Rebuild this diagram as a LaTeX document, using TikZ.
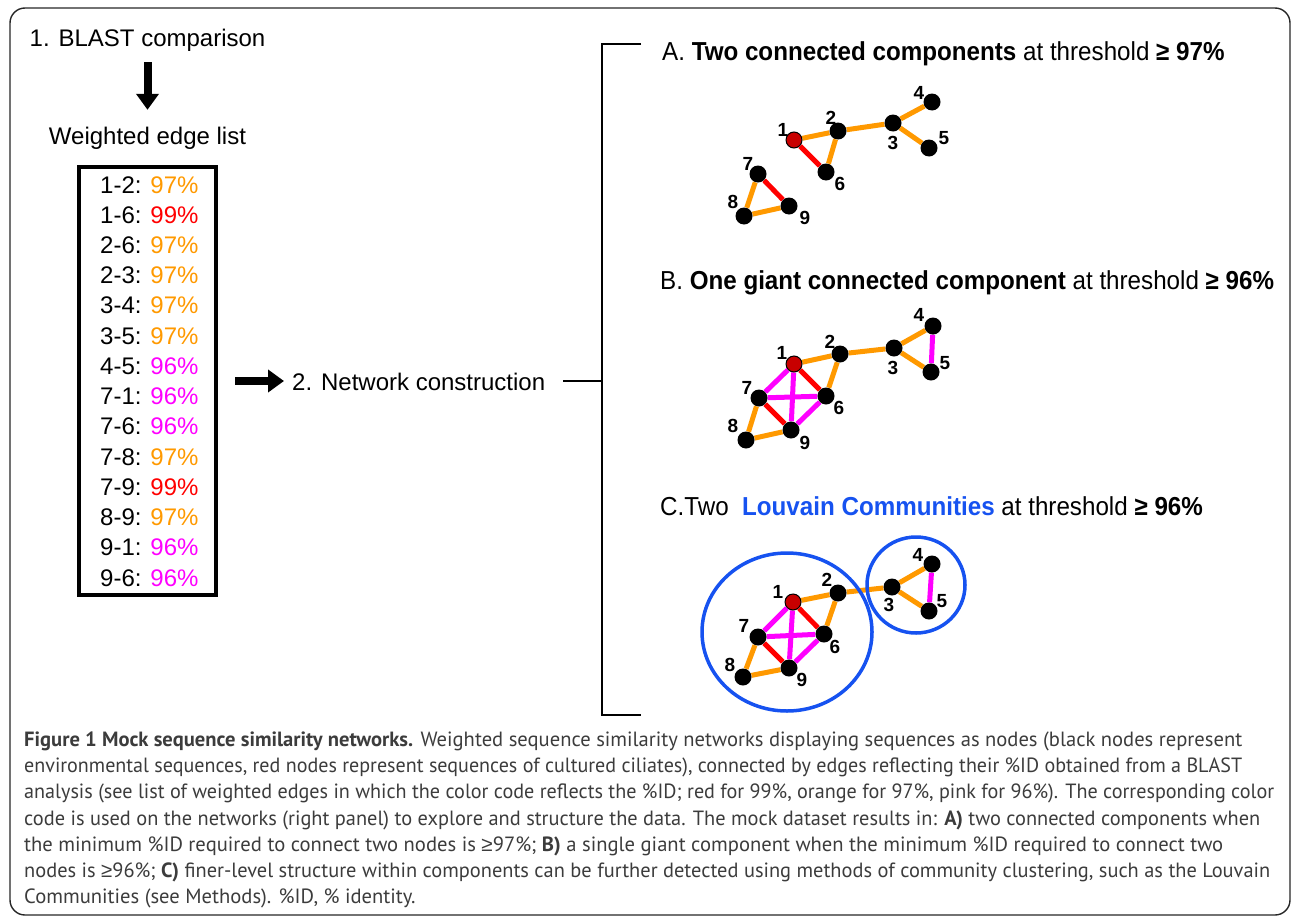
\documentclass[tikz,border=0pt]{standalone}
\usepackage{fontspec}
\usepackage{graphicx}
\setmainfont{Liberation Sans}
\newfontfamily\capfont{PT Sans}
\newfontfamily\gefont{Liberation Sans}
\usetikzlibrary{arrows.meta,backgrounds}
\definecolor{eorange}{RGB}{255,153,0}
\definecolor{ered}{RGB}{255,0,0}
\definecolor{epink}{RGB}{255,0,255}
\definecolor{nred}{RGB}{200,0,0}
\definecolor{lblue}{RGB}{22,82,240}
\definecolor{capgray}{RGB}{60,60,60}
\newcommand{\gesym}{{\gefont ≥}}
\newcommand{\po}[1]{{\color{eorange}#1\%}}
\newcommand{\pr}[1]{{\color{ered}#1\%}}
\newcommand{\pp}[1]{{\color{epink}#1\%}}
\newcommand{\fitw}[2]{\resizebox{#1}{\height}{#2}}
\tikzset{
  frame/.style={draw=black!85, line width=1.4pt, rounded corners=15pt},
  txt/.style={inner sep=0pt, text height=17.5pt, text depth=5pt, font=\fontsize{24}{28}\selectfont},
  ttl/.style={inner sep=0pt, anchor=base west, font=\fontsize{26}{30}\selectfont},
  bigarrow/.style={line width=8pt, -{Triangle[length=16pt,width=22pt]}},
  bline/.style={line width=2pt, black},
  listbox/.style={draw, line width=4pt, minimum width=137pt, minimum height=428pt, inner sep=0pt},
  row/.style={inner sep=0pt, anchor=base west, font=\fontsize{24}{28}\selectfont},
  gn/.style={circle, fill=black, inner sep=0pt, minimum size=17pt},
  rn/.style={circle, fill=nred, draw=black, line width=1pt, inner sep=0pt, minimum size=16pt},
  lb/.style={inner sep=0pt, font=\bfseries\fontsize{19}{20}\selectfont},
  eo/.style={draw=eorange, line width=5pt},
  er/.style={draw=ered, line width=5pt},
  ep/.style={draw=epink, line width=5pt},
  comm/.style={draw=lblue, line width=3.5pt},
  captxt/.style={inner sep=0pt, anchor=base west, text=capgray, font=\capfont\fontsize{20.6}{26}\selectfont},
}
\begin{document}
\begin{tikzpicture}[x=1pt,y=-1pt]
\useasboundingbox (0,0) rectangle (1292,918);
\draw[frame] (10,8) rectangle (1290,915);

% left column
\node[txt, anchor=base] (blast) at (147.5,46) {1. BLAST comparison};
\node[txt, anchor=base] (wel) at (147.5,144) {Weighted edge list};
\draw[bigarrow, shorten <=11pt, shorten >=16.5pt] (blast.south) -- (wel.north);

\node[listbox] (list) at (147.5,381) {};
\node[row] (r1) at (100,193.0) {1-2: \po{97}};
\node[row] (r2) at (100,223.2) {1-6: \pr{99}};
\node[row] (r3) at (100,253.5) {2-6: \po{97}};
\node[row] (r4) at (100,283.7) {2-3: \po{97}};
\node[row] (r5) at (100,313.9) {3-4: \po{97}};
\node[row] (r6) at (100,344.2) {3-5: \po{97}};
\node[row] (r7) at (100,374.4) {4-5: \pp{96}};
\node[row] (r8) at (100,404.6) {7-1: \pp{96}};
\node[row] (r9) at (100,434.8) {7-6: \pp{96}};
\node[row] (r10) at (100,465.1) {7-8: \po{97}};
\node[row] (r11) at (100,495.3) {7-9: \pr{99}};
\node[row] (r12) at (100,525.5) {8-9: \po{97}};
\node[row] (r13) at (100,555.8) {9-1: \pp{96}};
\node[row] (r14) at (100,586.0) {9-6: \pp{96}};

\node[txt, anchor=base west] (net) at (292,390) {2. Network construction};
\draw[bigarrow, shorten <=17pt, shorten >=8pt] (list.east) -- (net.west |- list.east);

% bracket
\coordinate (brtop) at (602,44);
\coordinate (brbot) at (602,715);
\coordinate (brmid) at (602,381);
\coordinate (tickA) at (641,44);
\coordinate (tickC) at (641,715);
\draw[bline] (tickA) -- (brtop) -- (brbot) -- (tickC);
\draw[bline, shorten <=18pt] (net.east |- brmid) -- (brmid);

% titles
\node[ttl] (tA) at (662,60) {\scalebox{0.93}[1]{A. \textbf{Two connected components} at threshold \textbf{\gesym\ 97\%}}};
\node[ttl] (tB) at (660,289) {\scalebox{0.93}[1]{B. \textbf{One giant connected component} at threshold \textbf{\gesym\ 96\%}}};
\node[ttl] (tC) at (660,515) {\scalebox{0.93}[1]{C.Two\ \ \textcolor{lblue}{\textbf{Louvain Communities}} at threshold \textbf{\gesym\ 96\%}}};

% ---------- panel A ----------
\node[rn] (a1) at (794,140) {};
\node[gn] (a2) at (838,131) {};
\node[gn] (a3) at (893,123) {};
\node[gn] (a4) at (932,102) {};
\node[gn] (a5) at (929,148) {};
\node[gn] (a6) at (826,172) {};
\node[gn] (a7) at (758,174) {};
\node[gn] (a8) at (744,216) {};
\node[gn] (a9) at (789,206) {};
\node[lb] (la1) at (783,130) {1};
\node[lb] (la2) at (831,118) {2};
\node[lb] (la3) at (893,143) {3};
\node[lb] (la4) at (919,93) {4};
\node[lb] (la5) at (944,138) {5};
\node[lb] (la6) at (840,184) {6};
\node[lb] (la7) at (748,164) {7};
\node[lb] (la8) at (733,202) {8};
\node[lb] (la9) at (805,218) {9};
\begin{scope}[on background layer]
\draw[eo] (a1) -- (a2);
\draw[er] (a1) -- (a6);
\draw[eo] (a2) -- (a6);
\draw[eo] (a2) -- (a3);
\draw[eo] (a3) -- (a4);
\draw[eo] (a3) -- (a5);
\draw[er] (a7) -- (a9);
\draw[eo] (a7) -- (a8);
\draw[eo] (a8) -- (a9);
\end{scope}

% ---------- panel B ----------
\node[rn] (b1) at (794,364) {};
\node[gn] (b2) at (840,354) {};
\node[gn] (b3) at (894,348) {};
\node[gn] (b4) at (933,326) {};
\node[gn] (b5) at (931,372) {};
\node[gn] (b6) at (826,396) {};
\node[gn] (b7) at (759,398) {};
\node[gn] (b8) at (746,440) {};
\node[gn] (b9) at (791,430) {};
\node[lb] (lb1) at (782,353) {1};
\node[lb] (lb2) at (830,342) {2};
\node[lb] (lb3) at (893,368) {3};
\node[lb] (lb4) at (919,315) {4};
\node[lb] (lb5) at (945,363) {5};
\node[lb] (lb6) at (839,408) {6};
\node[lb] (lb7) at (747,388) {7};
\node[lb] (lb8) at (733,426) {8};
\node[lb] (lb9) at (805,443) {9};
\begin{scope}[on background layer]
\draw[eo] (b1) -- (b2);
\draw[er] (b1) -- (b6);
\draw[eo] (b2) -- (b6);
\draw[eo] (b2) -- (b3);
\draw[eo] (b3) -- (b4);
\draw[eo] (b3) -- (b5);
\draw[ep] (b4) -- (b5);
\draw[ep] (b7) -- (b1);
\draw[ep] (b7) -- (b6);
\draw[eo] (b7) -- (b8);
\draw[er] (b7) -- (b9);
\draw[eo] (b8) -- (b9);
\draw[ep] (b9) -- (b1);
\draw[ep] (b9) -- (b6);
\end{scope}

% ---------- panel C ----------
\node[rn] (c1) at (793,602) {};
\node[gn] (c2) at (838,593) {};
\node[gn] (c3) at (892,587) {};
\node[gn] (c4) at (932,564) {};
\node[gn] (c5) at (929,611) {};
\node[gn] (c6) at (824,634) {};
\node[gn] (c7) at (758,637) {};
\node[gn] (c8) at (743,677) {};
\node[gn] (c9) at (789,668) {};
\node[lb] (lc1) at (778,592) {1};
\node[lb] (lc2) at (827,580) {2};
\node[lb] (lc3) at (889,605) {3};
\node[lb] (lc4) at (918,555) {4};
\node[lb] (lc5) at (942,601) {5};
\node[lb] (lc6) at (835,647) {6};
\node[lb] (lc7) at (744,626) {7};
\node[lb] (lc8) at (730,665) {8};
\node[lb] (lc9) at (802,680) {9};
\begin{scope}[on background layer]
\draw[eo] (c1) -- (c2);
\draw[er] (c1) -- (c6);
\draw[eo] (c2) -- (c6);
\draw[eo] (c2) -- (c3);
\draw[eo] (c3) -- (c4);
\draw[eo] (c3) -- (c5);
\draw[ep] (c4) -- (c5);
\draw[ep] (c7) -- (c1);
\draw[ep] (c7) -- (c6);
\draw[eo] (c7) -- (c8);
\draw[er] (c7) -- (c9);
\draw[eo] (c8) -- (c9);
\draw[ep] (c9) -- (c1);
\draw[ep] (c9) -- (c6);
\end{scope}
\draw[comm] (787,632) ellipse [x radius=85pt, y radius=79pt];
\draw[comm] (916,585) ellipse [x radius=49pt, y radius=48pt];

% ---------- caption ----------
\node[captxt] (cap1) at (24,746) {\fitw{1218pt}{\textbf{Figure 1 Mock sequence similarity networks.} Weighted sequence similarity networks displaying sequences as nodes (black nodes represent}};
\node[captxt] (cap2) at (24,772) {\fitw{1218pt}{environmental sequences, red nodes represent sequences of cultured ciliates), connected by edges reflecting their \%ID obtained from a BLAST}};
\node[captxt] (cap3) at (24,798) {\fitw{1250pt}{analysis (see list of weighted edges in which the color code reflects the \%ID; red for 99\%, orange for 97\%, pink for 96\%). The corresponding color}};
\node[captxt] (cap4) at (24,825) {\fitw{1236pt}{code is used on the networks (right panel) to explore and structure the data. The mock dataset results in: \textbf{A)} two connected components when}};
\node[captxt] (cap5) at (24,851) {\fitw{1199pt}{the minimum \%ID required to connect two nodes is \gesym97\%; \textbf{B)} a single giant component when the minimum \%ID required to connect two}};
\node[captxt] (cap6) at (24,877) {\fitw{1246pt}{nodes is \gesym96\%; \textbf{C)} finer-level structure within components can be further detected using methods of community clustering, such as the Louvain}};
\node[captxt] (cap7) at (24,903) {Communities (see Methods). \%ID, \% identity.};
\end{tikzpicture}
\end{document}
